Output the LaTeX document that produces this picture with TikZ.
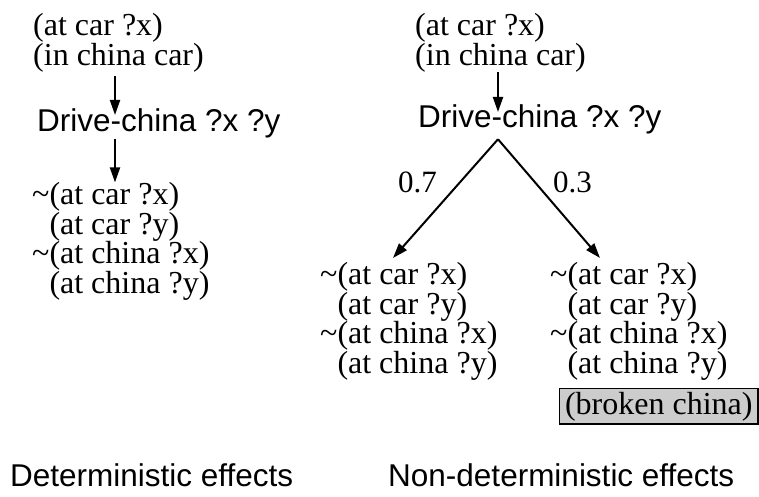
\documentclass[tikz,border=0pt]{standalone}
\usepackage{fontspec}
\setmainfont{Liberation Serif}
\setsansfont{Liberation Sans}
\usetikzlibrary{arrows.meta, calc}

\newcommand{\effdel}{\textasciitilde}
\newcommand{\effadd}{\phantom{\textasciitilde}}
\newcommand{\effects}{\effdel(at car ?x)\\ \effadd(at car ?y)\\ \effdel(at china ?x)\\ \effadd(at china ?y)}

\begin{document}
\begin{tikzpicture}[x=1pt, y=-1pt, >={Triangle[length=15pt, width=10pt]},
    cond/.style={font=\fontsize{32}{29.5}\selectfont, align=left, inner sep=0pt, anchor=north west},
    act/.style={font=\sffamily\fontsize{31.5}{34}\selectfont, inner sep=0pt, anchor=base west},
    prob/.style={font=\fontsize{31}{34}\selectfont, inner sep=0pt, anchor=base west},
    arr/.style={->, line width=2pt},
    broken/.style={cond, draw, line width=1.6pt, fill=black!20, inner xsep=0pt, inner ysep=3.3pt,
        minimum width=198.4pt}]
    \useasboundingbox (0,0) rectangle (759,497);
    % deterministic
    \node[cond] (dpre) at (33,13.4) {(at car ?x)\\(in china car)};
    \node[act] (dact) at (37,132) {Drive-china ?x ?y};
    \node[cond] (deff) at (32,182.4) {\effects};
    \coordinate (dx) at (115,0);
    \draw[arr] ([yshift=-4pt]dx |- dpre.south) -- ([yshift=-6pt]dx |- dact.north);
    \draw[arr] (dx |- dact.south) -- (dx |- deff.north);
    \node[act] (dcap) at (10,486) {Deterministic effects};
    % non-deterministic
    \node[cond] (npre) at (415,13.4) {(at car ?x)\\(in china car)};
    \node[act] (nact) at (418,128) {Drive-china ?x ?y};
    \coordinate (nx) at (498,0);
    \draw[arr] (nx |- npre.south) -- ([yshift=-7pt]nx |- nact.north);
    \coordinate (apex) at ([yshift=-4.5pt]nx |- nact.south);
    \node[cond] (neffa) at (320,262.4) {\effects};
    \node[cond] (neffb) at (550,262.4) {\effects};
    \node[broken] (nbroken) at (558.8,387.8) {(broken china)};
    \draw[arr] (apex) -- ($(neffa.north west)+(73,-4.4)$);
    \draw[arr] (apex) -- ($(neffb.north west)+(50,-4.4)$);
    \node[prob] (pa) at (398,192) {0.7};
    \node[prob] (pb) at (553,192) {0.3};
    \node[act] (ncap) at (388,486) {Non-deterministic effects};
\end{tikzpicture}
\end{document}
